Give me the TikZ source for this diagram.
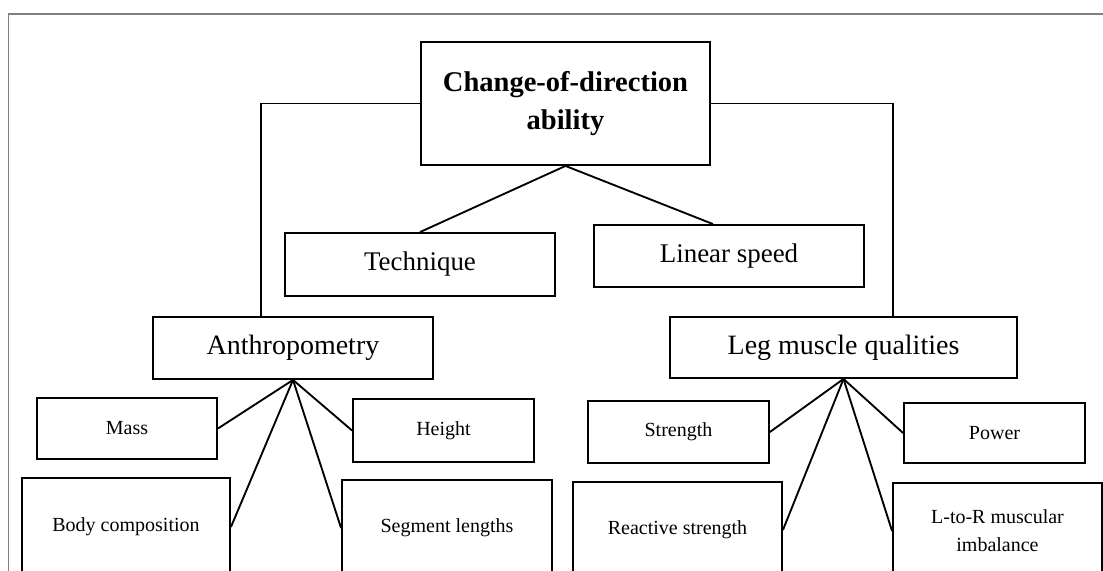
\documentclass[tikz,border=0pt]{standalone}
\usepackage{fontspec}
\setmainfont{Liberation Serif}
\begin{document}
\begin{tikzpicture}[x=0.75pt,y=0.75pt,yscale=-1,xscale=1,
  cbox/.style 2 args={draw, line width=1.4pt, inner sep=0pt, align=center, minimum width=#1*0.75pt, minimum height=#2*0.75pt},
  link/.style={line width=1.4pt},
  big/.style={font=\fontsize{21}{27}\selectfont},
  mid/.style={font=\fontsize{20.2}{26}\selectfont},
  small/.style={font=\fontsize{15}{21}\selectfont}]
\useasboundingbox (0,0) rectangle (1103,571);
\clip (0,0) rectangle (1103,571);
\draw [gray, line width=0.8pt] (1103,14) -- (8.5,14) -- (8.5,571);
\node [cbox={289}{123}, font=\bfseries\fontsize{21.4}{28.5}\selectfont] (cod) at (565.5,103.5) {Change-of-direction\\ability};
\node [cbox={270}{63}, mid] (tech) at (420,264.5) {Technique};
\node [cbox={270}{62}, mid] (speed) at (729,256) {Linear speed};
\node [cbox={280}{62}, big] (anthro) at (293,348) {Anthropometry};
\node [cbox={347}{61}, big] (leg) at (843.5,347.5) {Leg muscle qualities};
\node [cbox={180}{61}, small] (mass) at (127,428.5) {Mass};
\node [cbox={181}{63}, small] (height) at (443.5,430.5) {Height};
\node [cbox={208}{98}, small] (body) at (126,527) {Body composition};
\node [cbox={210}{96}, small] (segment) at (447,528) {Segment lengths};
\node [cbox={181}{62}, small] (strength) at (678.5,432) {Strength};
\node [cbox={181}{60}, small] (power) at (994.5,433) {Power};
\node [cbox={209}{96}, small] (reactive) at (677.5,530) {Reactive strength};
\node [cbox={209}{96}, small] (imbal) at (997.5,531) {L-to-R muscular\\imbalance};
\draw [link] (cod.west) -| ([xshift=-24pt]anthro.north);
\draw [link] (cod.east) -| ([xshift=37.1pt]leg.north);
\draw [link] (cod.south) -- (tech.north);
\draw [link] (cod.south) -- ([xshift=-12pt]speed.north);
\draw [link] (anthro.south) -- (mass.east);
\draw [link] (anthro.south) -- (height.west);
\draw [link] (anthro.south) -- (body.east);
\draw [link] (anthro.south) -- (segment.west);
\draw [link] (leg.south) -- (strength.east);
\draw [link] (leg.south) -- (power.west);
\draw [link] (leg.south) -- (reactive.east);
\draw [link] (leg.south) -- (imbal.west);
\end{tikzpicture}
\end{document}
